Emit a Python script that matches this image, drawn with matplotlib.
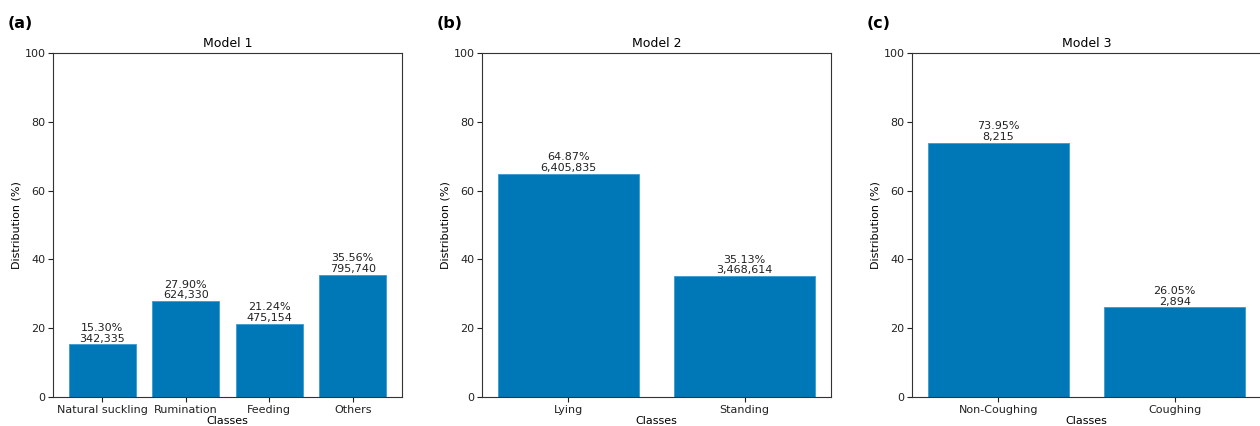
import matplotlib.pyplot as plt
import matplotlib as mpl

mpl.rcParams.update({'font.family': 'DejaVu Sans', 'font.size': 8})

BAR = '#0077b6'

m1_classes = ['Natural suckling', 'Rumination', 'Feeding', 'Others']
m1_pct = [15.30, 27.90, 21.24, 35.56]
m1_count = [342335, 624330, 475154, 795740]

m2_classes = ['Lying', 'Standing']
m2_pct = [64.87, 35.13]
m2_count = [6405835, 3468614]

m3_classes = ['Non-Coughing', 'Coughing']
m3_pct = [73.95, 26.05]
m3_count = [8215, 2894]

panels = [('(a)', 'Model 1', m1_classes, m1_pct, m1_count),
          ('(b)', 'Model 2', m2_classes, m2_pct, m2_count),
          ('(c)', 'Model 3', m3_classes, m3_pct, m3_count)]

W, H = 1260, 426
fig = plt.figure(figsize=(W / 100, H / 100), dpi=100)
fig.patch.set_facecolor('white')

lefts = [53, 482, 912]
for (tag, title, cls, pct, cnt), lx in zip(panels, lefts):
    ax = fig.add_axes([lx / W, 29 / H, 349 / W, 344 / H])
    x = range(len(cls))
    ax.bar(x, pct, width=0.8, color=BAR, edgecolor='#3a9ad0', linewidth=0.6)
    for xi, p, c in zip(x, pct, cnt):
        ax.text(xi, p + 0.2, f'{p:.2f}%\n{c:,}', ha='center', va='bottom',
                fontsize=8, color='#222222', linespacing=1.1)
    ax.set_xticks(list(x))
    ax.set_xticklabels(cls)
    ax.set_ylim(0, 100)
    ax.set_title(title, fontsize=9, pad=4)
    ax.set_xlabel('Classes', fontsize=8, labelpad=1)
    ax.set_ylabel('Distribution (%)', fontsize=8, labelpad=2)
    for s in ax.spines.values():
        s.set_color('#333333')
    ax.tick_params(colors='#222222', pad=2)
    fig.text((lx - 45) / W, 1 - 24 / H, tag, fontsize=11.5, fontweight='bold',
             ha='left', va='center')

fig.savefig('out.png', dpi=100, facecolor='white')
